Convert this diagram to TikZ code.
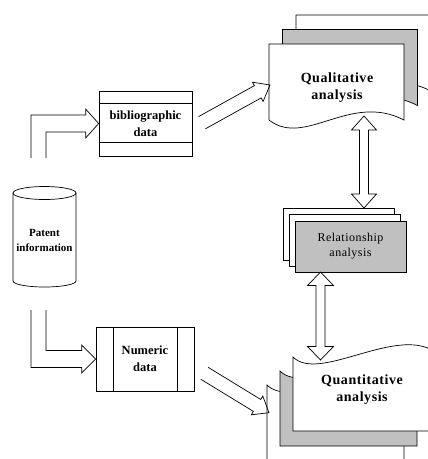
\documentclass[tikz,border=0pt]{standalone}
\usepackage{fontspec}
\setmainfont{Liberation Serif}
\newfontfamily\spacedfont[LetterSpace=4]{Liberation Serif}
\usetikzlibrary{calc}
\definecolor{pagegray}{RGB}{192,192,192}
\tikzset{
  outline/.style={draw=black, line width=0.7pt, line join=miter},
  page/.style={outline, fill=white},
  graypage/.style={outline, fill=pagegray},
  openarrow/.style={outline},
  dblarrow/.style={outline, fill=white},
  boxnode/.style={outline, fill=white, inner sep=0pt, align=center,
    font=\bfseries\fontsize{12.5}{17}\selectfont},
  bigtitle/.style={inner sep=0pt, align=center,
    font=\spacedfont\bfseries\fontsize{14}{17}\selectfont},
  reltext/.style={outline, fill=pagegray, inner sep=0pt, align=center,
    minimum width=111pt, minimum height=51pt,
    font=\spacedfont\fontsize{12}{15}\selectfont},
  cyltext/.style={inner sep=0pt, align=center,
    font=\bfseries\fontsize{11}{15}\selectfont}
}
% hollow straight arrow with open tail: #1 tail, #2 tip, #3 shaft half width, #4 head half width, #5 head length
\newcommand\hollowarrow[5]{%
  \draw[openarrow] ($(#1)!#3pt!90:(#2)$)
    -- ($(#2)!#5pt!(#1)!#3pt!-90:(#1)$)
    -- ($(#2)!#5pt!(#1)!#4pt!-90:(#1)$)
    -- (#2)
    -- ($(#2)!#5pt!(#1)!#4pt!90:(#1)$)
    -- ($(#2)!#5pt!(#1)!#3pt!90:(#1)$)
    -- ($(#1)!#3pt!-90:(#2)$);}
% vertical double-headed block arrow: #1 top tip, #2 bottom tip, #3 shaft half, #4 head half, #5 head length
\newcommand\doublearrow[5]{%
  \draw[dblarrow] let \p1=(#1), \p2=(#2) in
    (\p1) -- (\x1+#4,\y1-#5) -- (\x1+#3,\y1-#5) -- (\x1+#3,\y2+#5)
    -- (\x1+#4,\y2+#5) -- (\p2) -- (\x1-#4,\y2+#5) -- (\x1-#3,\y2+#5)
    -- (\x1-#3,\y1-#5) -- (\x1-#4,\y1-#5) -- cycle;}
% document page with wavy bottom
\newcommand\qualpage[2]{%
  \draw[#1, shift={#2}] (0,0) -- (135,0) -- (135,-76)
    .. controls (81,-48) and (36,-104) .. (0,-76) -- cycle;}
% document page with wavy top: #1 style, #2 shift, #3 height
\newcommand\quantpage[3]{%
  \draw[#1, shift={#2}] (0,0) .. controls (25,-25) and (97,27) .. (137,8)
    -- (137,-#3) -- (0,-#3) -- cycle;}

\begin{document}
\begin{tikzpicture}[x=1pt,y=1pt]
\useasboundingbox (0,0) rectangle (428,-459);
\clip (0,0) rectangle (428,-459);

% ---- Qualitative analysis stack
\qualpage{page}{(296,-15)}
\qualpage{graypage}{(282.5,-29.5)}
\qualpage{page}{(269,-44)}
\node[bigtitle] (qual) at (337,-87.5) {Qualitative\\analysis};

% ---- Quantitative analysis stack
\quantpage{page}{(267,-385)}{95}
\quantpage{graypage}{(280,-371)}{75}
\quantpage{page}{(293,-357)}{74}
\node[bigtitle] (quant) at (362,-390) {Quantitative\\analysis};

% ---- Relationship analysis stack
\draw[page] (283,-208) rectangle (394,-260);
\draw[page] (289,-214) rectangle (400,-266);
\node[reltext] (rel) at (350.5,-246.5) {Relationship\\analysis};

% ---- bibliographic data
\node[boxnode, minimum width=93pt, minimum height=65pt] (bib) at (145.5,-123.5)
  {bibliographic\\data};
\draw[outline] ($(bib.north west)+(0,-13)$) -- ($(bib.north east)+(0,-13)$);
\draw[outline] ($(bib.south west)+(0,14)$) -- ($(bib.south east)+(0,14)$);

% ---- Numeric data
\node[boxnode, minimum width=98pt, minimum height=64pt] (num) at (145,-359)
  {Numeric\\data};
\draw[outline] ($(num.north west)+(18,0)$) -- ($(num.south west)+(18,0)$);
\draw[outline] ($(num.north east)+(-17,0)$) -- ($(num.south east)+(-17,0)$);

% ---- Patent information cylinder
\draw[page] (13,-193) -- (13,-281) arc[start angle=180, end angle=360,
  x radius=31.5, y radius=6] -- (76,-193);
\draw[page] (44.5,-193) ellipse[x radius=31.5, y radius=6.5];
\node[cyltext] (patent) at (44.5,-240.5) {Patent\\information};

% ---- connectors
\coordinate (cyltop) at (38.5,-158);
\coordinate (cylbot) at (38.5,-310);
\draw[openarrow] let \p1=(cyltop), \p2=(bib.west) in
  (\x1-7.5,\y1) |- (\x2-13,\y2+8.5) -- (\x2-13,\y2+14.5) -- (\p2)
  -- (\x2-13,\y2-14.5) -- (\x2-13,\y2-8.5) -| (\x1+7.5,\y1);
\draw[openarrow] let \p1=(cylbot), \p2=(num.west) in
  (\x1-7.5,\y1) |- (\x2-14,\y2-8.5) -- (\x2-14,\y2-14) -- (\p2)
  -- (\x2-14,\y2+14) -- (\x2-14,\y2+8.5) -| (\x1+7.5,\y1);

\coordinate (a2tail) at (202,-122.7);
\coordinate (qualtip) at (270,-85);
\hollowarrow{a2tail}{qualtip}{7}{11}{14}
\coordinate (a3tail) at (204.5,-373.3);
\coordinate (quanttip) at (269,-412.7);
\hollowarrow{a3tail}{quanttip}{7}{11}{14}

\coordinate (d1top) at (364,-116);
\coordinate (d1bot) at (364,-208);
\doublearrow{d1top}{d1bot}{4.5}{12.5}{14}
\coordinate (d2top) at (320.5,-272);
\coordinate (d2bot) at (320.5,-360);
\doublearrow{d2top}{d2bot}{4.5}{13}{13.5}
\end{tikzpicture}
\end{document}
